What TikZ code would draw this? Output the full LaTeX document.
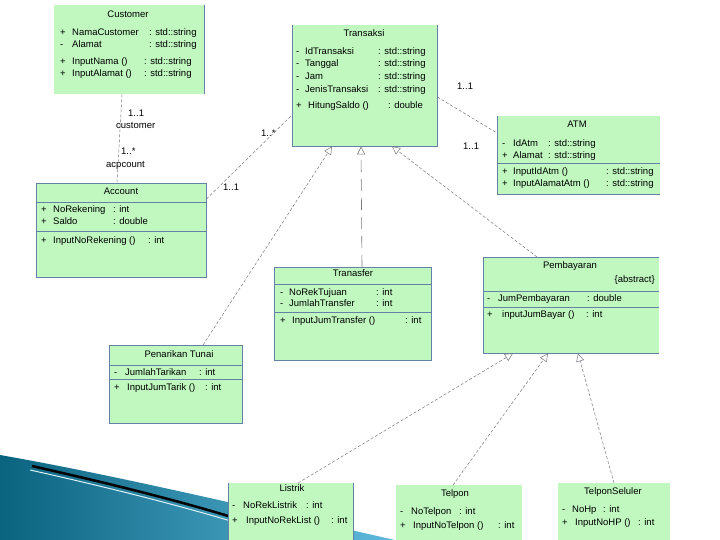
\documentclass[tikz,border=0pt]{standalone}
\usepackage{fontspec}
\setmainfont{Liberation Sans}
\usetikzlibrary{arrows.meta}
\definecolor{umlgreen}{RGB}{192,248,192}
\definecolor{umlborder}{RGB}{100,130,165}
\definecolor{linkgray}{RGB}{120,120,130}
\definecolor{tealdark}{RGB}{10,100,128}
\definecolor{teallight}{RGB}{95,185,220}
\newcommand{\umlrow}[8]{%
  \node[txt] (#1s) at (#3,#2) {#4};
  \node[txt] (#1m) at (#5,#2) {#6};
  \node[txt] (#1t) at (#7,#2) {#8};}
\begin{document}
\begin{tikzpicture}[x=1pt,y=-1pt,
  cls/.style={fill=umlgreen, draw=none, inner sep=0pt, anchor=north west},
  edge/.style={draw=umlborder, line width=0.8pt},
  sep/.style={draw=umlborder, line width=0.8pt},
  txt/.style={font=\fontsize{9.5}{11}\selectfont, inner sep=0pt, anchor=base west, text=black, yshift=-3.4pt},
  ttl/.style={font=\fontsize{9.5}{11}\selectfont, inner sep=0pt, anchor=base, text=black, yshift=-3.4pt},
  mult/.style={font=\fontsize{9.5}{11}\selectfont, inner sep=0pt, anchor=base west, text=black, yshift=-3.4pt},
  assoc/.style={draw=linkgray, line width=0.5pt, densely dashed},
  gen/.style={draw=linkgray, line width=0.5pt, densely dashed, -{Triangle[open,length=8pt,width=8pt]}},
  genlong/.style={draw=linkgray, line width=0.6pt, dash pattern=on 12pt off 7pt, -{Triangle[open,length=8pt,width=8pt]}}
]
\useasboundingbox (0,0) rectangle (720,540);
\fill[white] (0,0) rectangle (720,540);

% decorative swoosh
\shade[left color=tealdark, right color=teallight]
  (0,455) .. controls (120,476) and (270,512) .. (395,540) -- (0,540) -- cycle;
\draw[black, line width=2.5pt] (32,466) .. controls (120,486) and (220,510) .. (300,540);
\draw[white!80!teallight, line width=1pt] (30,470) .. controls (120,490) and (215,514) .. (290,540);

% class boxes
\node[cls, minimum width=150pt, minimum height=89pt] (customer) at (54,5) {};
\node[cls, minimum width=145pt, minimum height=121pt] (transaksi) at (292,25) {};
\node[cls, minimum width=163pt, minimum height=78pt] (atm) at (497,116) {};
\node[cls, minimum width=170pt, minimum height=94pt] (account) at (36,183) {};
\node[cls, minimum width=157pt, minimum height=93pt] (transfer) at (274,267) {};
\node[cls, minimum width=176pt, minimum height=96pt] (pembayaran) at (483,257) {};
\node[cls, minimum width=133pt, minimum height=78pt] (penarikan) at (109,345) {};
\node[cls, minimum width=125pt, minimum height=57pt] (listrik) at (228,483) {};
\node[cls, minimum width=126pt, minimum height=55pt] (telpon) at (396,485) {};
\node[cls, minimum width=112pt, minimum height=57pt] (seluler) at (558,483) {};

% borders
\draw[edge] (customer.north east) -- (customer.south east);
\draw[edge] (transaksi.north west) -- (transaksi.south west) -- (transaksi.south east) -- (transaksi.north east);
\draw[edge] (atm.north west) -- (atm.south west) -- (atm.south east);
\draw[sep] (497,163) -- (660,163);
\draw[edge] (account.north west) rectangle (account.south east);
\draw[sep] (36,202) -- (206,202);
\draw[sep] (36,231) -- (206,231);
\draw[edge] (transfer.north west) rectangle (transfer.south east);
\draw[sep] (274,284) -- (431,284);
\draw[sep] (274,312) -- (431,312);
\draw[edge] (pembayaran.north east) -- (pembayaran.north west) -- (pembayaran.south west) -- (pembayaran.south east);
\draw[sep] (483,291) -- (659,291);
\draw[sep] (483,307) -- (659,307);
\draw[edge] (penarikan.north west) rectangle (penarikan.south east);
\draw[sep] (109,365) -- (242,365);
\draw[sep] (109,379) -- (242,379);
\draw[edge] (listrik.north west) -- (listrik.south west);
\draw[edge] (listrik.north east) -- (listrik.south east);

% Customer
\node[ttl] (customert) at (128,14) {Customer};
\umlrow{cu1}{32}{60}{+}{72}{NamaCustomer}{149}{: std::string}
\umlrow{cu2}{44}{60}{-}{72}{Alamat}{149}{: std::string}
\umlrow{cu3}{61}{60}{+}{72}{InputNama ()}{144}{: std::string}
\umlrow{cu4}{73}{60}{+}{72}{InputAlamat ()}{144}{: std::string}

% Transaksi
\node[ttl] (transaksit) at (364,33) {Transaksi};
\umlrow{tr1}{51}{296}{-}{305}{IdTransaksi}{378}{: std::string}
\umlrow{tr2}{63}{296}{-}{305}{Tanggal}{378}{: std::string}
\umlrow{tr3}{76}{296}{-}{305}{Jam}{378}{: std::string}
\umlrow{tr4}{89}{296}{-}{305}{JenisTransaksi}{378}{: std::string}
\umlrow{tr5}{105}{296}{+}{308}{HitungSaldo ()}{388}{: double}

% ATM
\node[ttl] (atmt) at (577,124) {ATM};
\umlrow{at1}{143}{502}{-}{513}{IdAtm}{548}{: std::string}
\umlrow{at2}{155}{502}{+}{513}{Alamat}{548}{: std::string}
\umlrow{at3}{171}{502}{+}{513}{InputIdAtm ()}{606}{: std::string}
\umlrow{at4}{183}{502}{+}{513}{InputAlamatAtm ()}{606}{: std::string}

% Account
\node[ttl] (accountt) at (121,191) {Account};
\umlrow{ac1}{209}{41}{+}{53}{NoRekening}{113}{: int}
\umlrow{ac2}{221}{41}{+}{53}{Saldo}{113}{: double}
\umlrow{ac3}{240}{41}{+}{53}{InputNoRekening ()}{148}{: int}

% Transfer
\node[ttl] (transfert) at (353,273) {Tranasfer};
\umlrow{tf1}{292}{280}{-}{289}{NoRekTujuan}{376}{: int}
\umlrow{tf2}{303}{280}{-}{289}{JumlahTransfer}{376}{: int}
\umlrow{tf3}{320}{280}{+}{292}{InputJumTransfer ()}{405}{: int}

% Pembayaran
\node[ttl] (pembayarant) at (570,265) {Pembayaran};
\node[txt, anchor=base east] (abstract) at (655,279) {\{abstract\}};
\umlrow{pb1}{298}{487}{-}{498}{JumPembayaran}{587}{: double}
\umlrow{pb2}{314}{487}{+}{502}{inputJumBayar ()}{586}{: int}

% Penarikan Tunai
\node[ttl] (penarikant) at (179,354) {Penarikan Tunai};
\umlrow{pt1}{372}{114}{-}{125}{JumlahTarikan}{199}{: int}
\umlrow{pt2}{387}{114}{+}{127}{InputJumTarik ()}{205}{: int}

% Listrik
\node[ttl] (listrikt) at (292,488) {Listrik};
\umlrow{ls1}{505}{232}{-}{243}{NoRekListrik}{306}{: int}
\umlrow{ls2}{520}{232}{+}{246}{InputNoRekList ()}{331}{: int}

% Telpon
\node[ttl] (telpont) at (455,493) {Telpon};
\umlrow{tp1}{511}{400}{-}{411}{NoTelpon}{459}{: int}
\umlrow{tp2}{525}{400}{+}{413}{InputNoTelpon ()}{498}{: int}

% TelponSeluler
\node[ttl] (selulert) at (613,491) {TelponSeluler};
\umlrow{ts1}{509}{562}{-}{572}{NoHp}{603}{: int}
\umlrow{ts2}{522}{562}{+}{575}{InputNoHP ()}{638}{: int}

% associations
\draw[assoc] ([xshift=68pt]customer.south west) -- ([xshift=81pt]account.north west);
\draw[assoc] ([yshift=-16pt]account.north east) -- ([yshift=-90pt]transaksi.north west);
\draw[assoc] ([yshift=-72pt]transaksi.north east) -- ([yshift=-17pt]atm.north west);

% multiplicities
\node[mult] (m1) at (128,113) {1..1};
\node[mult] (m2) at (116,125) {customer};
\node[mult] (m3) at (121,151) {1..*};
\node[mult] (m4) at (106,164) {acpcount};
\node[mult] (m5) at (261,133) {1..*};
\node[mult] (m6) at (223,187) {1..1};
\node[mult] (m7) at (457,86) {1..1};
\node[mult] (m8) at (463,146) {1..1};

% generalizations
\draw[gen] ([xshift=94pt]penarikan.north west) -- ([xshift=40pt]transaksi.south west);
\draw[genlong] ([xshift=88pt]transfer.north west) -- ([xshift=69pt]transaksi.south west);
\draw[gen] ([xshift=54pt]pembayaran.north west) -- ([xshift=100pt]transaksi.south west);
\draw[gen] ([xshift=70pt]listrik.north west) -- ([xshift=30pt]pembayaran.south west);
\draw[gen] ([xshift=57pt]telpon.north west) -- ([xshift=65pt]pembayaran.south west);
\draw[gen] ([xshift=56pt]seluler.north west) -- ([xshift=95pt]pembayaran.south west);
\end{tikzpicture}
\end{document}
